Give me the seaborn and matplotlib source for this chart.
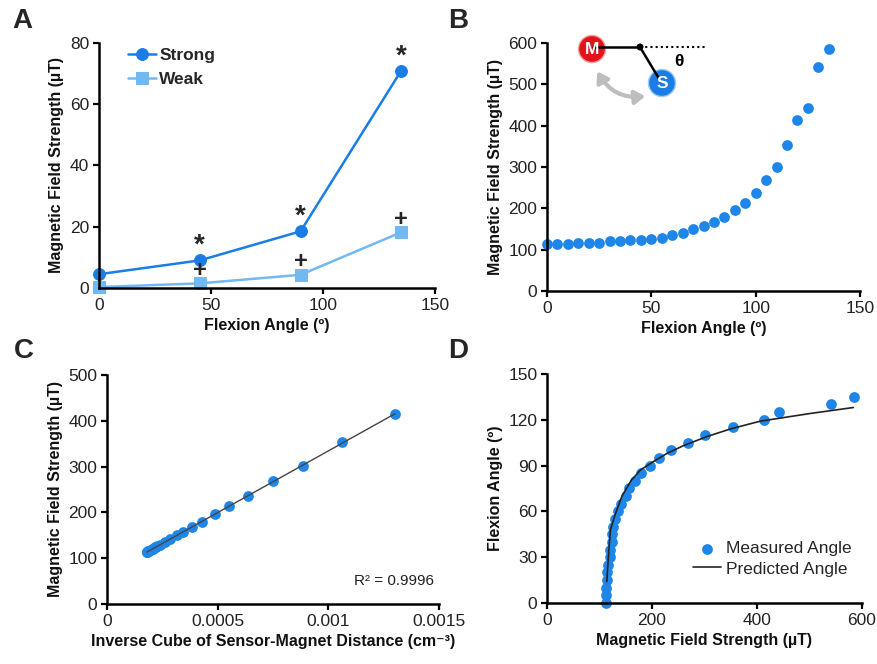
import numpy as np
import pandas as pd
import matplotlib
matplotlib.use("Agg")
import matplotlib.pyplot as plt
import seaborn as sns
from matplotlib.patches import Circle, FancyArrowPatch

# ---- data ----
# Panel A: strong vs weak magnet
a_angles = [0, 45, 90, 135]
a_strong = [4.5, 9.0, 18.5, 71.0]
a_weak = [0.3, 1.5, 4.3, 18.2]

# Panel B / D: measured field over flexion angle
b_angles = [0, 5, 10, 15, 20, 25, 30, 35, 40, 45, 50, 55, 60, 65, 70,
            75, 80, 85, 90, 95, 100, 105, 110, 115, 120, 125, 130, 135]
b_field = [113, 113, 113, 115, 115, 116, 120, 121, 124, 124, 126, 129, 135, 141, 150,
           157, 168, 180, 196, 213, 236, 268, 301, 354, 414, 443, 541, 586]

# Panel C: inverse cube of distance vs field (0..120 deg)
c_inv_cube = [0.000179, 0.000179, 0.000180, 0.000186, 0.000187, 0.000190, 0.000205,
              0.000208, 0.000219, 0.000220, 0.000227, 0.000238, 0.000261, 0.000283,
              0.000317, 0.000343, 0.000384, 0.000429, 0.000489, 0.000553, 0.000639,
              0.000749, 0.000884, 0.001063, 0.001301]
c_field = b_field[:25]
c_xticks = [0, 0.0005, 0.001, 0.0015]
c_xticklabels = ["0", "0.0005", "0.001", "0.0015"]

# Panel D: predicted angle curve
d_pred_field = [114, 116, 118, 121, 130, 143, 160, 178, 200, 229, 260, 305, 350, 406, 500, 584]
d_pred_angle = [14, 25, 35, 48, 58, 70, 80, 87, 92, 98, 103, 109, 114, 119, 124, 128]

strong_c = "#1a7de6"
weak_c = "#72b9f2"
dot_c = "#1e86e8"

sns.set_style("ticks")
plt.rcParams["font.family"] = ["Liberation Sans", "DejaVu Sans"]
plt.rcParams["axes.linewidth"] = 1.8
plt.rcParams["xtick.major.width"] = 1.6
plt.rcParams["ytick.major.width"] = 1.6
plt.rcParams["xtick.major.size"] = 4
plt.rcParams["ytick.major.size"] = 4
plt.rcParams["xtick.color"] = "black"
plt.rcParams["ytick.color"] = "black"
plt.rcParams["xtick.labelcolor"] = "#222222"
plt.rcParams["ytick.labelcolor"] = "#222222"
plt.rcParams["xtick.labelsize"] = 12.5
plt.rcParams["ytick.labelsize"] = 12.5
plt.rcParams["axes.edgecolor"] = "black"

fig = plt.figure(figsize=(8.77, 6.64), dpi=100)
axA = fig.add_axes([0.1129, 0.5663, 0.383, 0.369])
axB = fig.add_axes([0.6237, 0.5617, 0.357, 0.3735])
axC = fig.add_axes([0.122, 0.0904, 0.3786, 0.345])
axD = fig.add_axes([0.6237, 0.0919, 0.359, 0.345])

lab = dict(fontsize=11.5, fontweight="bold", color="#111111")

# ---- A ----
dfA = pd.DataFrame({"angle": a_angles, "strong": a_strong, "weak": a_weak})
sns.lineplot(data=dfA, x="angle", y="strong", ax=axA, color=strong_c, marker="o",
             markersize=8.5, markeredgecolor=strong_c, linewidth=1.8, label="Strong")
sns.lineplot(data=dfA, x="angle", y="weak", ax=axA, color=weak_c, marker="s",
             markersize=8, markeredgecolor=weak_c, linewidth=1.8, label="Weak")
for l in axA.lines:
    l.set_clip_on(False)
for x, y in zip(a_angles[1:], a_strong[1:]):
    axA.annotate("*", (x, y), xytext=(0, 1), textcoords="offset points",
                 ha="center", va="bottom", fontsize=20, fontweight="bold")
for x, y in zip(a_angles[1:], a_weak[1:]):
    axA.annotate("+", (x, y), xytext=(0, 1), textcoords="offset points",
                 ha="center", va="bottom", fontsize=17, fontweight="bold")
axA.set_xlim(0, 150)
axA.set_ylim(0, 80)
axA.set_xticks([0, 50, 100, 150])
axA.set_yticks([0, 20, 40, 60, 80])
axA.set_xlabel("Flexion Angle (º)", **lab)
axA.set_ylabel("Magnetic Field Strength (µT)", **lab)
axA.legend(loc="upper left", frameon=False, handlelength=1.6, handletextpad=0.2,
           borderaxespad=0.3, labelspacing=0.5, prop={"weight": "bold", "size": 12.5},
           bbox_to_anchor=(0.05, 1.03))

# ---- B ----
dfB = pd.DataFrame({"angle": b_angles, "field": b_field})
sns.scatterplot(data=dfB, x="angle", y="field", ax=axB, color=dot_c, s=60,
                edgecolor=dot_c, linewidth=0, clip_on=False)
axB.set_xlim(0, 150)
axB.set_ylim(0, 600)
axB.set_xticks([0, 50, 100, 150])
axB.set_yticks(range(0, 601, 100))
axB.set_xlabel("Flexion Angle (º)", **lab)
axB.set_ylabel("Magnetic Field Strength (µT)", **lab)

# inset diagram in B
axI = fig.add_axes([575 / 877, 1 - 110 / 664, 150 / 877, 80 / 664])
axI.set_xlim(575, 725)
axI.set_ylim(110, 30)
axI.set_aspect("equal")
axI.axis("off")
axI.plot([593, 640], [47, 47], color="black", lw=1.8)
axI.plot([640, 705], [47, 47], color="black", lw=1.5, ls=(0, (1, 1.5)))
axI.plot([640, 661], [47, 82], color="black", lw=1.8)
axI.add_patch(Circle((640, 47), 2.8, color="black"))
axI.add_patch(Circle((592, 49), 13.5, facecolor="#e3121b", edgecolor="#f4a0a0", lw=1))
axI.add_patch(Circle((662, 83), 13.5, facecolor="#1a7de6", edgecolor="#9cc8f2", lw=1))
axI.text(592, 50, "M", color="white", fontsize=12.5, fontweight="bold", ha="center", va="center")
axI.text(662, 84, "S", color="white", fontsize=12.5, fontweight="bold", ha="center", va="center")
axI.text(679, 61, "θ", color="black", fontsize=12.5, fontweight="bold", ha="center", va="center")
axI.add_patch(FancyArrowPatch((596, 69), (648, 96),
                              arrowstyle="<|-|>,head_length=6,head_width=4",
                              connectionstyle="arc3,rad=0.35", color="#bdbdbd", lw=3))

# ---- C ----
dfC = pd.DataFrame({"inv": c_inv_cube, "field": c_field})
sns.regplot(data=dfC, x="inv", y="field", ax=axC, ci=None, truncate=True,
            scatter_kws={"s": 60, "color": dot_c, "linewidths": 0, "alpha": 1},
            line_kws={"color": "#444444", "lw": 1.0})
axC.set_xlim(0, 0.0015)
axC.set_ylim(0, 500)
axC.set_xticks(c_xticks)
axC.set_xticklabels(c_xticklabels)
axC.set_yticks(range(0, 501, 100))
axC.set_xlabel("Inverse Cube of Sensor-Magnet Distance (cm⁻³)", **lab)
axC.set_ylabel("Magnetic Field Strength (µT)", **lab)
axC.text(0.985, 0.07, "R² = 0.9996", transform=axC.transAxes, ha="right", va="bottom",
         fontsize=11, color="#222222")

# ---- D ----
dfD = pd.DataFrame({"field": b_field, "angle": b_angles})
dfP = pd.DataFrame({"field": d_pred_field, "angle": d_pred_angle})
sns.scatterplot(data=dfD, x="field", y="angle", ax=axD, color=dot_c, s=60,
                linewidth=0, clip_on=False, label="Measured Angle")
sns.lineplot(data=dfP, x="field", y="angle", ax=axD, color="#222222", lw=1.2,
             label="Predicted Angle")
axD.set_xlim(0, 600)
axD.set_ylim(0, 150)
axD.set_xticks([0, 200, 400, 600])
axD.set_yticks(range(0, 151, 30))
axD.set_xlabel("Magnetic Field Strength (µT)", **lab)
axD.set_ylabel("Flexion Angle (º)", **lab)
axD.legend(loc="lower right", frameon=False, fontsize=12.5, handlelength=1.6,
           handletextpad=0.3, borderaxespad=0.2, labelspacing=0.3,
           bbox_to_anchor=(1.0, 0.07))

for ax in (axA, axB, axC, axD):
    sns.despine(ax=ax)
    ax.tick_params(direction="out", length=4, pad=3)

for txt, x, y in [("A", 12, 8), ("B", 448, 8), ("C", 14, 338), ("D", 448, 338)]:
    fig.text(x / 877, 1 - y / 664, txt, fontsize=20, fontweight="bold", va="top", ha="left")

fig.savefig("out.png", dpi=100)
